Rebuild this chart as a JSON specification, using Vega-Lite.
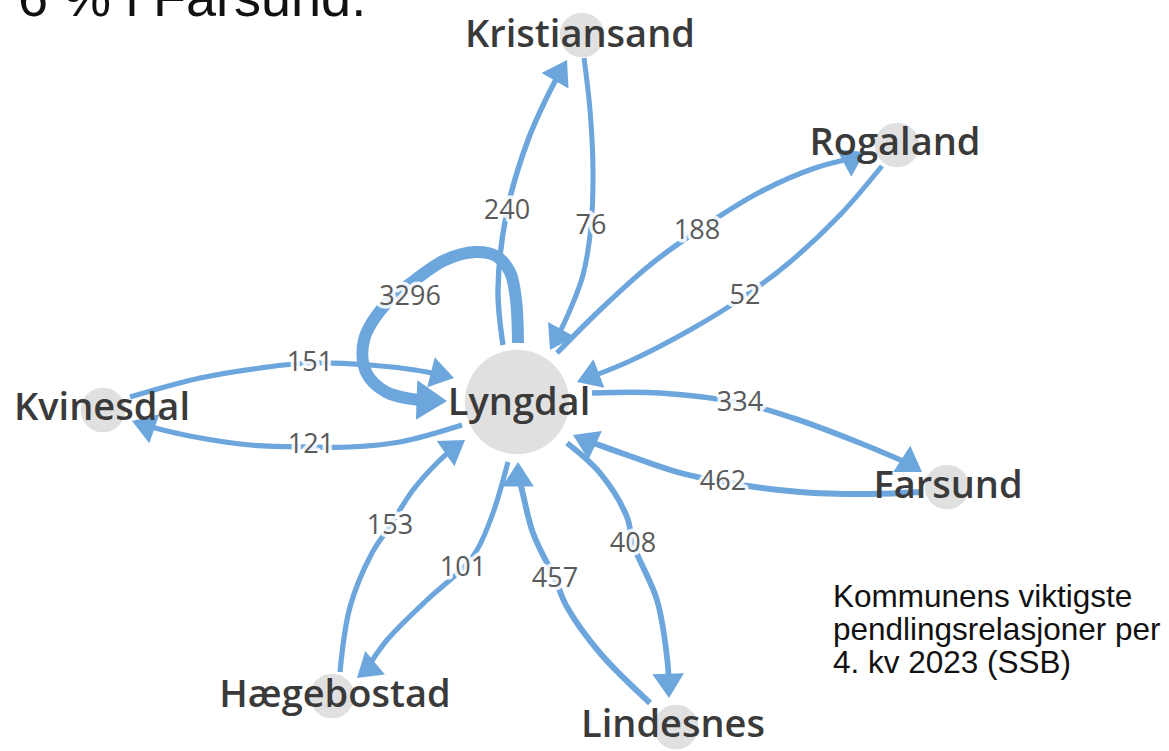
{
  "$schema": "https://vega.github.io/schema/vega-lite/v6.json",
  "width": 1169,
  "height": 751,
  "autosize": {"type": "none"},
  "padding": 0,
  "background": "white",
  "config": {"view": {"stroke": null}},
  "datasets": {
    "edges": [
      {"e":"e240","v":240,"o":1,"x":503,"y":345},{"e":"e240","v":240,"o":2,"x":498,"y":290},{"e":"e240","v":240,"o":3,"x":507,"y":211},{"e":"e240","v":240,"o":4,"x":528,"y":140},{"e":"e240","v":240,"o":5,"x":548,"y":95},{"e":"e240","v":240,"o":6,"x":558,"y":76},
      {"e":"e76","v":76,"o":1,"x":584,"y":58},{"e":"e76","v":76,"o":2,"x":590,"y":110},{"e":"e76","v":76,"o":3,"x":593,"y":170},{"e":"e76","v":76,"o":4,"x":591,"y":226},{"e":"e76","v":76,"o":5,"x":583,"y":275},{"e":"e76","v":76,"o":6,"x":570,"y":310},{"e":"e76","v":76,"o":7,"x":556,"y":340},
      {"e":"e188","v":188,"o":1,"x":557,"y":353},{"e":"e188","v":188,"o":2,"x":600,"y":310},{"e":"e188","v":188,"o":3,"x":650,"y":265},{"e":"e188","v":188,"o":4,"x":697,"y":231},{"e":"e188","v":188,"o":5,"x":760,"y":192},{"e":"e188","v":188,"o":6,"x":815,"y":168},{"e":"e188","v":188,"o":7,"x":854,"y":158},
      {"e":"e52","v":52,"o":1,"x":882,"y":166},{"e":"e52","v":52,"o":2,"x":840,"y":215},{"e":"e52","v":52,"o":3,"x":790,"y":262},{"e":"e52","v":52,"o":4,"x":745,"y":296},{"e":"e52","v":52,"o":5,"x":690,"y":330},{"e":"e52","v":52,"o":6,"x":630,"y":361},{"e":"e52","v":52,"o":7,"x":588,"y":378},
      {"e":"e3296","v":3296,"o":1,"x":518,"y":343},{"e":"e3296","v":3296,"o":2,"x":516,"y":300},{"e":"e3296","v":3296,"o":3,"x":510,"y":272},{"e":"e3296","v":3296,"o":4,"x":496,"y":256},{"e":"e3296","v":3296,"o":5,"x":475,"y":252},{"e":"e3296","v":3296,"o":6,"x":445,"y":260},{"e":"e3296","v":3296,"o":7,"x":415,"y":280},{"e":"e3296","v":3296,"o":8,"x":385,"y":305},{"e":"e3296","v":3296,"o":9,"x":364,"y":340},{"e":"e3296","v":3296,"o":10,"x":366,"y":372},{"e":"e3296","v":3296,"o":11,"x":386,"y":392},{"e":"e3296","v":3296,"o":12,"x":418,"y":400},{"e":"e3296","v":3296,"o":13,"x":432,"y":401},
      {"e":"e151","v":151,"o":1,"x":130,"y":397},{"e":"e151","v":151,"o":2,"x":200,"y":378},{"e":"e151","v":151,"o":3,"x":260,"y":368},{"e":"e151","v":151,"o":4,"x":310,"y":363},{"e":"e151","v":151,"o":5,"x":370,"y":365},{"e":"e151","v":151,"o":6,"x":415,"y":370},{"e":"e151","v":151,"o":7,"x":442,"y":375},
      {"e":"e121","v":121,"o":1,"x":462,"y":425},{"e":"e121","v":121,"o":2,"x":400,"y":442},{"e":"e121","v":121,"o":3,"x":350,"y":447},{"e":"e121","v":121,"o":4,"x":311,"y":447},{"e":"e121","v":121,"o":5,"x":250,"y":445},{"e":"e121","v":121,"o":6,"x":195,"y":437},{"e":"e121","v":121,"o":7,"x":155,"y":428},{"e":"e121","v":121,"o":8,"x":143,"y":425},
      {"e":"e334","v":334,"o":1,"x":592,"y":393},{"e":"e334","v":334,"o":2,"x":660,"y":393},{"e":"e334","v":334,"o":3,"x":740,"y":403},{"e":"e334","v":334,"o":4,"x":793,"y":418},{"e":"e334","v":334,"o":5,"x":860,"y":443},{"e":"e334","v":334,"o":6,"x":912,"y":465},
      {"e":"e462","v":462,"o":1,"x":922,"y":492},{"e":"e462","v":462,"o":2,"x":870,"y":494},{"e":"e462","v":462,"o":3,"x":800,"y":492},{"e":"e462","v":462,"o":4,"x":723,"y":482},{"e":"e462","v":462,"o":5,"x":677,"y":472},{"e":"e462","v":462,"o":6,"x":627,"y":455},{"e":"e462","v":462,"o":7,"x":585,"y":440},
      {"e":"e153","v":153,"o":1,"x":340,"y":672},{"e":"e153","v":153,"o":2,"x":350,"y":607},{"e":"e153","v":153,"o":3,"x":372,"y":553},{"e":"e153","v":153,"o":4,"x":390,"y":526},{"e":"e153","v":153,"o":5,"x":413,"y":490},{"e":"e153","v":153,"o":6,"x":440,"y":460},{"e":"e153","v":153,"o":7,"x":455,"y":447},
      {"e":"e101","v":101,"o":1,"x":508,"y":462},{"e":"e101","v":101,"o":2,"x":493,"y":513},{"e":"e101","v":101,"o":3,"x":477,"y":550},{"e":"e101","v":101,"o":4,"x":463,"y":568},{"e":"e101","v":101,"o":5,"x":427,"y":600},{"e":"e101","v":101,"o":6,"x":387,"y":640},{"e":"e101","v":101,"o":7,"x":366,"y":670},
      {"e":"e457","v":457,"o":1,"x":650,"y":703},{"e":"e457","v":457,"o":2,"x":600,"y":653},{"e":"e457","v":457,"o":3,"x":567,"y":607},{"e":"e457","v":457,"o":4,"x":555,"y":579},{"e":"e457","v":457,"o":5,"x":533,"y":533},{"e":"e457","v":457,"o":6,"x":522,"y":490},{"e":"e457","v":457,"o":7,"x":518,"y":474},
      {"e":"e408","v":408,"o":1,"x":567,"y":443},{"e":"e408","v":408,"o":2,"x":600,"y":473},{"e":"e408","v":408,"o":3,"x":627,"y":517},{"e":"e408","v":408,"o":4,"x":633,"y":544},{"e":"e408","v":408,"o":5,"x":657,"y":600},{"e":"e408","v":408,"o":6,"x":667,"y":657},{"e":"e408","v":408,"o":7,"x":669,"y":686}
    ],
    "arrows": [
      {"v":240,"x":567,"y":60,"angle":-60},
      {"v":76,"x":550,"y":350,"angle":119},
      {"v":188,"x":865,"y":152,"angle":-28},
      {"v":52,"x":577,"y":382,"angle":159},
      {"v":3296,"x":447,"y":401,"angle":2},
      {"v":151,"x":454,"y":378,"angle":14},
      {"v":121,"x":132,"y":421,"angle":199},
      {"v":334,"x":922,"y":472,"angle":33},
      {"v":462,"x":573,"y":435,"angle":205},
      {"v":153,"x":465,"y":440,"angle":-35},
      {"v":101,"x":357,"y":678,"angle":140},
      {"v":457,"x":518,"y":462,"angle":-90},
      {"v":408,"x":669,"y":698,"angle":88}
    ],
    "labels": [
      {"v":240,"x":507,"y":211},{"v":76,"x":591,"y":226},{"v":188,"x":697,"y":231},{"v":52,"x":745,"y":296},
      {"v":3296,"x":410,"y":297},{"v":151,"x":310,"y":363},{"v":121,"x":311,"y":445},{"v":334,"x":740,"y":403},
      {"v":462,"x":723,"y":482},{"v":153,"x":390,"y":526},{"v":101,"x":463,"y":568},{"v":457,"x":555,"y":579},{"v":408,"x":633,"y":544}
    ],
    "nodes": [
      {"name":"Lyngdal","kind":"hub","x":517,"y":402,"lx":519,"ly":415},
      {"name":"Kristiansand","kind":"node","x":582,"y":35,"lx":580,"ly":47},
      {"name":"Rogaland","kind":"node","x":897,"y":145,"lx":895,"ly":155},
      {"name":"Kvinesdal","kind":"node","x":103,"y":410,"lx":102,"ly":420},
      {"name":"Farsund","kind":"node","x":947,"y":487,"lx":948,"ly":498},
      {"name":"Hægebostad","kind":"node","x":332,"y":696,"lx":335,"ly":707},
      {"name":"Lindesnes","kind":"node","x":676,"y":727,"lx":673,"ly":737}
    ],
    "notes": [
      {"t":"6 % i Farsund.","x":18,"y":16,"k":"big"},
      {"t":"Kommunens viktigste","x":833,"y":607,"k":"small"},
      {"t":"pendlingsrelasjoner per","x":833,"y":640,"k":"small"},
      {"t":"4. kv 2023 (SSB)","x":833,"y":673,"k":"small"}
    ]
  },
  "layer": [
    {
      "data": {"name": "edges"},
      "mark": {"type": "line", "interpolate": "catmull-rom", "color": "#6ca6dc", "strokeCap": "butt"},
      "encoding": {
        "x": {"field": "x", "type": "quantitative", "scale": {"domain": [0, 1169], "nice": false, "zero": false}, "axis": null},
        "y": {"field": "y", "type": "quantitative", "scale": {"domain": [0, 751], "nice": false, "zero": false, "reverse": true}, "axis": null},
        "detail": {"field": "e"},
        "order": {"field": "o", "type": "quantitative"},
        "strokeWidth": {"field": "v", "type": "quantitative", "scale": {"domain": [50, 3300], "range": [5, 12]}, "legend": null}
      }
    },
    {
      "data": {"name": "arrows"},
      "mark": {"type": "point", "shape": "M0,0L-1,-0.65L-1,0.65Z", "filled": true, "color": "#6ca6dc", "opacity": 1, "strokeWidth": 0},
      "encoding": {
        "x": {"field": "x", "type": "quantitative", "axis": null},
        "y": {"field": "y", "type": "quantitative", "axis": null},
        "angle": {"field": "angle", "type": "quantitative", "scale": null},
        "size": {"field": "v", "type": "quantitative", "scale": {"domain": [50, 3300], "range": [2200, 3700]}, "legend": null}
      }
    },
    {
      "data": {"name": "nodes"},
      "mark": {"type": "point", "shape": "circle", "filled": true, "color": "#e0e0e0", "opacity": 1, "strokeWidth": 0},
      "encoding": {
        "x": {"field": "x", "type": "quantitative", "axis": null},
        "y": {"field": "y", "type": "quantitative", "axis": null},
        "size": {"field": "kind", "type": "nominal", "scale": {"domain": ["hub", "node"], "range": [10900, 2000]}, "legend": null}
      }
    },
    {
      "data": {"name": "labels"},
      "mark": {"type": "text", "font": "Open Sans", "fontSize": 27, "baseline": "middle", "align": "center", "stroke": "white", "strokeWidth": 7, "strokeJoin": "round", "strokeOpacity": 0.9, "color": "white"},
      "encoding": {
        "x": {"field": "x", "type": "quantitative", "axis": null},
        "y": {"field": "y", "type": "quantitative", "axis": null},
        "text": {"field": "v", "type": "nominal"}
      }
    },
    {
      "data": {"name": "labels"},
      "mark": {"type": "text", "font": "Open Sans", "fontSize": 27, "baseline": "middle", "align": "center", "color": "#5a5a5a"},
      "encoding": {
        "x": {"field": "x", "type": "quantitative", "axis": null},
        "y": {"field": "y", "type": "quantitative", "axis": null},
        "text": {"field": "v", "type": "nominal"}
      }
    },
    {
      "data": {"name": "nodes"},
      "mark": {"type": "text", "font": "Open Sans", "fontSize": 38, "fontWeight": 600, "baseline": "alphabetic", "align": "center", "color": "#3a3a3a"},
      "encoding": {
        "x": {"field": "lx", "type": "quantitative", "axis": null},
        "y": {"field": "ly", "type": "quantitative", "axis": null},
        "text": {"field": "name", "type": "nominal"}
      }
    },
    {
      "data": {"name": "notes"},
      "transform": [{"filter": "datum.k === 'big'"}],
      "mark": {"type": "text", "font": "Liberation Sans", "fontSize": 54, "baseline": "alphabetic", "align": "left", "color": "#111111"},
      "encoding": {
        "x": {"field": "x", "type": "quantitative", "axis": null},
        "y": {"field": "y", "type": "quantitative", "axis": null},
        "text": {"field": "t", "type": "nominal"}
      }
    },
    {
      "data": {"name": "notes"},
      "transform": [{"filter": "datum.k === 'small'"}],
      "mark": {"type": "text", "font": "Liberation Sans", "fontSize": 31.5, "baseline": "alphabetic", "align": "left", "color": "#111111"},
      "encoding": {
        "x": {"field": "x", "type": "quantitative", "axis": null},
        "y": {"field": "y", "type": "quantitative", "axis": null},
        "text": {"field": "t", "type": "nominal"}
      }
    }
  ]
}
